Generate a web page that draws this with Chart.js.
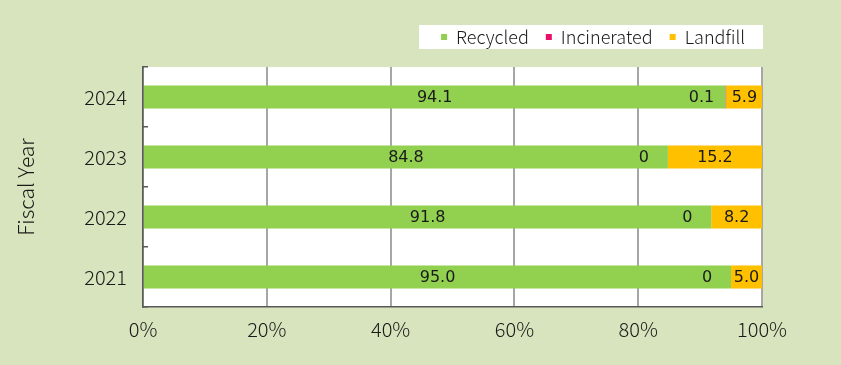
<!DOCTYPE html>
<html>
<head>
<meta charset="utf-8">
<script src="https://cdn.jsdelivr.net/npm/chart.js@4.4.1/dist/chart.umd.min.js"></script>
<style>
  html, body { margin: 0; padding: 0; background: #d7e4bd; }
  #wrap { width: 841px; height: 365px; }
</style>
</head>
<body>
<div id="wrap"><canvas id="myChart" width="841" height="365"></canvas></div>
<script>
var years = ['2024', '2023', '2022', '2021']
var recycled = [94.1, 84.8, 91.8, 95.0]
var incinerated = [0.1, 0, 0, 0]
var landfill = [5.9, 15.2, 8.2, 5.0]
var xTicks = [0, 20, 40, 60, 80, 100]

var tickFont = { family: "'Noto Sans CJK JP', sans-serif", size: 20, weight: 300 }

// background, white plot area and white legend box
var background = {
    id: 'background',
    beforeLayout: function (chart) {
        var lg = chart.legend
        if (lg && !lg._patched) {
            var fit = lg.fit
            lg.fit = function () {
                fit.call(this)
                this.height = 56
            }
            lg._patched = true
        }
    },
    beforeDraw: function (chart) {
        var c = chart.ctx
        var a = chart.chartArea
        c.save()
        c.fillStyle = '#d7e4bd'
        c.fillRect(0, 0, chart.width, chart.height)
        c.fillStyle = '#ffffff'
        c.fillRect(a.left, a.top, a.right - a.left, a.bottom - a.top)
        var hb = chart.legend.legendHitBoxes
        if (hb && hb.length) {
            var first = hb[0], last = hb[hb.length - 1]
            var cy = first.top + first.height / 2
            c.fillRect(first.left - 22, cy - 12, last.left + last.width + 18 - (first.left - 22), 24)
        }
        c.restore()
    }
}

// value labels on the bars
var barLabels = {
    id: 'barLabels',
    afterDatasetsDraw: function (chart) {
        var c = chart.ctx
        c.save()
        c.font = '16px "DejaVu Sans", sans-serif'
        c.fillStyle = '#1a1a1a'
        c.textAlign = 'center'
        c.textBaseline = 'middle'
        chart.data.datasets.forEach(function (ds, i) {
            var meta = chart.getDatasetMeta(i)
            meta.data.forEach(function (bar, j) {
                var v = ds.data[j]
                var txt = v == 0 ? '0' : v.toFixed(1)
                var x
                if (i == 1) {
                    x = bar.base - 24
                } else {
                    x = (bar.x + bar.base) / 2
                }
                c.fillText(txt, x, bar.y + 1)
            })
        })
        c.restore()
    }
}

var ctx = document.getElementById('myChart')
var chart = new Chart(ctx, {
    type: 'bar',
    data: {
        labels: years,
        datasets: [{
            label: 'Recycled',
            data: recycled,
            backgroundColor: '#92d050'
        }, {
            label: 'Incinerated',
            data: incinerated,
            backgroundColor: '#e8106a'
        }, {
            label: 'Landfill',
            data: landfill,
            backgroundColor: '#ffc000'
        }]
    },
    options: {
        indexAxis: 'y',
        responsive: false,
        animation: false,
        devicePixelRatio: 1,
        barPercentage: 0.385,
        categoryPercentage: 1,
        layout: { padding: { top: 11, right: 79, left: 13, bottom: 0 } },
        plugins: {
            legend: {
                position: 'top',
                align: 'end',
                labels: {
                    boxWidth: 6,
                    boxHeight: 6,
                    padding: 17,
                    color: '#1a1a1a',
                    font: { family: "'Noto Sans CJK JP', sans-serif", size: 18, weight: 300 }
                }
            },
            tooltip: { enabled: false }
        },
        scales: {
            x: {
                stacked: true,
                min: 0,
                max: 100,
                afterBuildTicks: function (scale) {
                    scale.ticks = xTicks.map(function (v) { return { value: v } })
                },
                afterFit: function (scale) { scale.height = 58 },
                ticks: {
                    padding: 10,
                    color: '#1a1a1a',
                    font: tickFont,
                    callback: function (v) { return v + '%' }
                },
                grid: { color: '#a6a6a6', lineWidth: 2, drawTicks: false },
                border: { color: '#595959', width: 1.5 }
            },
            y: {
                stacked: true,
                afterFit: function (scale) { scale.width = 130 },
                ticks: { padding: 21, color: '#1a1a1a', font: tickFont },
                grid: { offset: true, drawOnChartArea: false, tickLength: -5, color: '#595959', lineWidth: 1.5 },
                border: { color: '#595959', width: 1.5 },
                title: {
                    display: true,
                    text: 'Fiscal Year',
                    color: '#1a1a1a',
                    padding: 0,
                    font: { family: "'Noto Sans CJK JP', sans-serif", size: 21, weight: 300 }
                }
            }
        }
    },
    plugins: [background, barLabels]
})
</script>
</body>
</html>
